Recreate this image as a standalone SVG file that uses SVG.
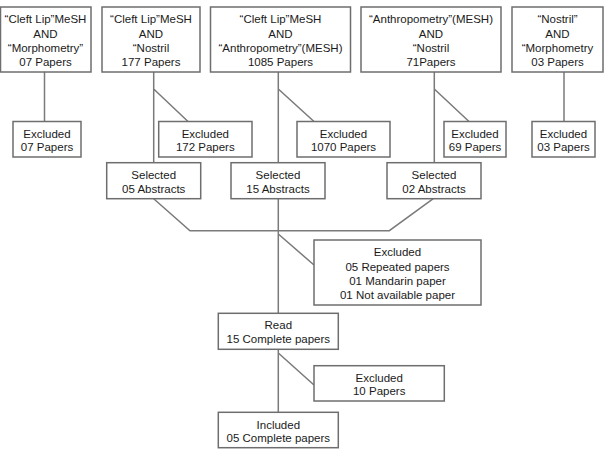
<svg xmlns="http://www.w3.org/2000/svg" width="604" height="450" viewBox="0 0 604 450">
<style>
rect{fill:#fff;stroke:#6e6e6e;stroke-width:1.5}
#connectors path{fill:none;stroke:#7a7a7a;stroke-width:1.5}
text{font-family:"Liberation Sans",Arial,sans-serif;font-size:11.5px;fill:#1a1a1a;text-anchor:middle}
</style>
<rect x="0" y="0" width="604" height="450" style="stroke:none"/>
<g id="connectors">
<path d="M44.5 72V121.5"/>
<path d="M153.7 72V162.7M153.7 89L188 121.5"/>
<path d="M278.3 72V162.7M278.3 89L314 121.5"/>
<path d="M434.3 72V162.7M434.3 89L469 121.5"/>
<path d="M564 72V121.5"/>
<path d="M153.7 198.7L190 230.7H389.3L433.3 198.7"/>
<path d="M278.3 198.7V313.3M278.3 234L314 265"/>
<path d="M278.3 349.3V412.3M278.3 353L314 385"/>
</g>
<g id="q1"><rect x="0.5" y="7" width="90.5" height="65"/><text x="45.5" y="23">“Cleft Lip”MeSH</text><text x="45.5" y="37.5">AND</text><text x="45.5" y="52">“Morphometry”</text><text x="45.5" y="66">07 Papers</text></g>
<g id="q2"><rect x="102" y="7" width="98" height="65"/><text x="151" y="23">“Cleft Lip”MeSH</text><text x="151" y="37.5">AND</text><text x="151" y="52">“Nostril</text><text x="151" y="66">177 Papers</text></g>
<g id="q3"><rect x="210.5" y="7" width="140" height="65"/><text x="280.5" y="23">“Cleft Lip”MeSH</text><text x="280.5" y="37.5">AND</text><text x="280.5" y="52">“Anthropometry”(MESH)</text><text x="280.5" y="66">1085 Papers</text></g>
<g id="q4"><rect x="361" y="7" width="140" height="65"/><text x="431" y="23">“Anthropometry”(MESH)</text><text x="431" y="37.5">AND</text><text x="431" y="52">“Nostril</text><text x="431" y="66">71Papers</text></g>
<g id="q5"><rect x="512" y="7" width="91" height="65"/><text x="557.5" y="23">“Nostril”</text><text x="557.5" y="37.5">AND</text><text x="557.5" y="52">“Morphometry</text><text x="557.5" y="66">03 Papers</text></g>
<g id="e1"><rect x="13" y="121.5" width="68" height="35.5"/><text x="47" y="137.5">Excluded</text><text x="47" y="151">07 Papers</text></g>
<g id="e2"><rect x="158.7" y="121.5" width="93.3" height="35.5"/><text x="205.3" y="137.5">Excluded</text><text x="205.3" y="151">172 Papers</text></g>
<g id="e3"><rect x="297" y="121.5" width="93" height="35.5"/><text x="343.5" y="137.5">Excluded</text><text x="343.5" y="151">1070 Papers</text></g>
<g id="e4"><rect x="444" y="121.5" width="62" height="35.5"/><text x="475" y="137.5">Excluded</text><text x="475" y="151">69 Papers</text></g>
<g id="e5"><rect x="532" y="121.5" width="63" height="35.5"/><text x="563.5" y="137.5">Excluded</text><text x="563.5" y="151">03 Papers</text></g>
<g id="s1"><rect x="106.7" y="162.7" width="94" height="36"/><text x="153.7" y="178.5">Selected</text><text x="153.7" y="192.5">05 Abstracts</text></g>
<g id="s2"><rect x="231" y="162.7" width="94" height="36"/><text x="278" y="178.5">Selected</text><text x="278" y="192.5">15 Abstracts</text></g>
<g id="s3"><rect x="387" y="162.7" width="94" height="36"/><text x="434" y="178.5">Selected</text><text x="434" y="192.5">02 Abstracts</text></g>
<g id="ex"><rect x="314" y="240" width="167" height="65"/><text x="397.5" y="256">Excluded</text><text x="397.5" y="270.5">05 Repeated papers</text><text x="397.5" y="285">01 Mandarin paper</text><text x="397.5" y="299">01 Not available paper</text></g>
<g id="read"><rect x="218.3" y="313.3" width="120" height="36"/><text x="278.3" y="329">Read</text><text x="278.3" y="343">15 Complete papers</text></g>
<g id="e10"><rect x="314" y="365.7" width="130.3" height="35.3"/><text x="379.2" y="381.5">Excluded</text><text x="379.2" y="395">10 Papers</text></g>
<g id="inc"><rect x="218.3" y="412.3" width="120" height="35.4"/><text x="278.3" y="428.5">Included</text><text x="278.3" y="442">05 Complete papers</text></g>
</svg>
